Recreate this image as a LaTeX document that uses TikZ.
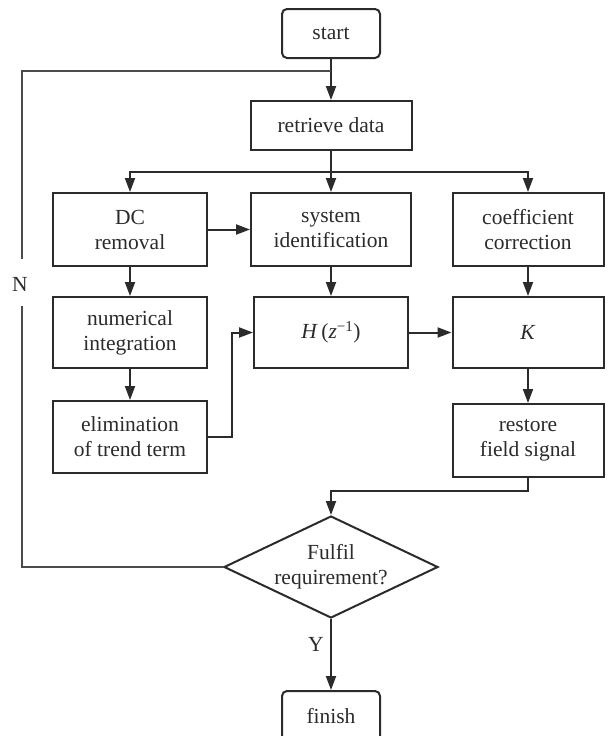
\documentclass[tikz,border=0pt]{standalone}
\usepackage{fontspec}
\setmainfont{Liberation Serif}
\usetikzlibrary{arrows.meta,shapes.geometric}
\definecolor{ink}{HTML}{2B2B2B}
\begin{document}
\begin{tikzpicture}[x=1pt,y=-1pt,
  box/.style={draw=ink,line width=2pt,inner sep=0pt,align=center,text=ink,font=\fontsize{21.5}{25}\selectfont},
  rbox/.style={box,rounded corners=5pt},
  arr/.style={draw=ink,line width=2pt,-{Triangle[length=14pt,width=10pt]}},
  ln/.style={draw=ink,line width=2pt},
  loopln/.style={draw=ink!85,line width=1.5pt},
  lbl/.style={text=ink,font=\fontsize{21.5}{25}\selectfont}]
\useasboundingbox (0,0) rectangle (608,736);
\node[rbox,minimum width=98pt,minimum height=49pt] (start) at (331,33.5) {start};
\node[box,minimum width=161pt,minimum height=49pt] (retrieve) at (331,125.5) {retrieve data};
\node[box,minimum width=154pt,minimum height=73pt] (dc) at (130,229.5) {DC\\removal};
\node[box,minimum width=160pt,minimum height=73pt] (sysid) at (331,229.5) {system\\identification};
\node[box,minimum width=151pt,minimum height=73pt] (coef) at (528,229.5) {coefficient\\correction};
\node[box,minimum width=154pt,minimum height=71pt] (num) at (130,332.5) {numerical\\integration};
\node[box,minimum width=154pt,minimum height=71pt] (H) at (331,332.5) {\textit{H}\,(\textit{z}\textsuperscript{−1})};
\node[box,minimum width=151pt,minimum height=71pt] (K) at (528,332.5) {\textit{K}};
\node[box,minimum width=154pt,minimum height=72pt] (elim) at (130,437) {elimination\\of trend term};
\node[box,minimum width=151pt,minimum height=73pt] (restore) at (528,440.5) {restore\\field signal};
\node[box,shape=diamond,aspect=2.1,minimum width=214pt,minimum height=102pt] (dia) at (331,567) {Fulfil\\requirement?};
\node[rbox,minimum width=98pt,minimum height=50pt] (finish) at (331,716) {finish};
% connectors
\coordinate (lp) at (331,71);
\coordinate (br) at (331,172);
\coordinate (nhigh) at (22,259);
\coordinate (nlow) at (22,306);
\draw[arr] (start) -- (retrieve);
\draw[ln] (retrieve) -- (br);
\draw[arr] (br) -| (dc.north);
\draw[arr] (br) -- (sysid.north);
\draw[arr] (br) -| (coef.north);
\draw[arr] (dc) -- (sysid);
\draw[arr] (dc) -- (num);
\draw[arr] (num) -- (elim);
\draw[arr] (sysid) -- (H);
\draw[arr] (coef) -- (K);
\draw[arr] (H) -- (K);
\draw[arr] (K) -- (restore);
\draw[arr] (elim.east) -- ++(24,0) |- (H.west);
\draw[arr] (restore.south) -- ++(0,13) -| (dia.north);
\draw[arr] (dia.south) -- (finish.north);
\draw[loopln] (dia.west) -| (nlow);
\draw[loopln] (nhigh) |- (lp);
\node[lbl] (nlab) at (20,284) {N};
\node[lbl] (ylab) at (316,644) {Y};
\end{tikzpicture}
\end{document}
